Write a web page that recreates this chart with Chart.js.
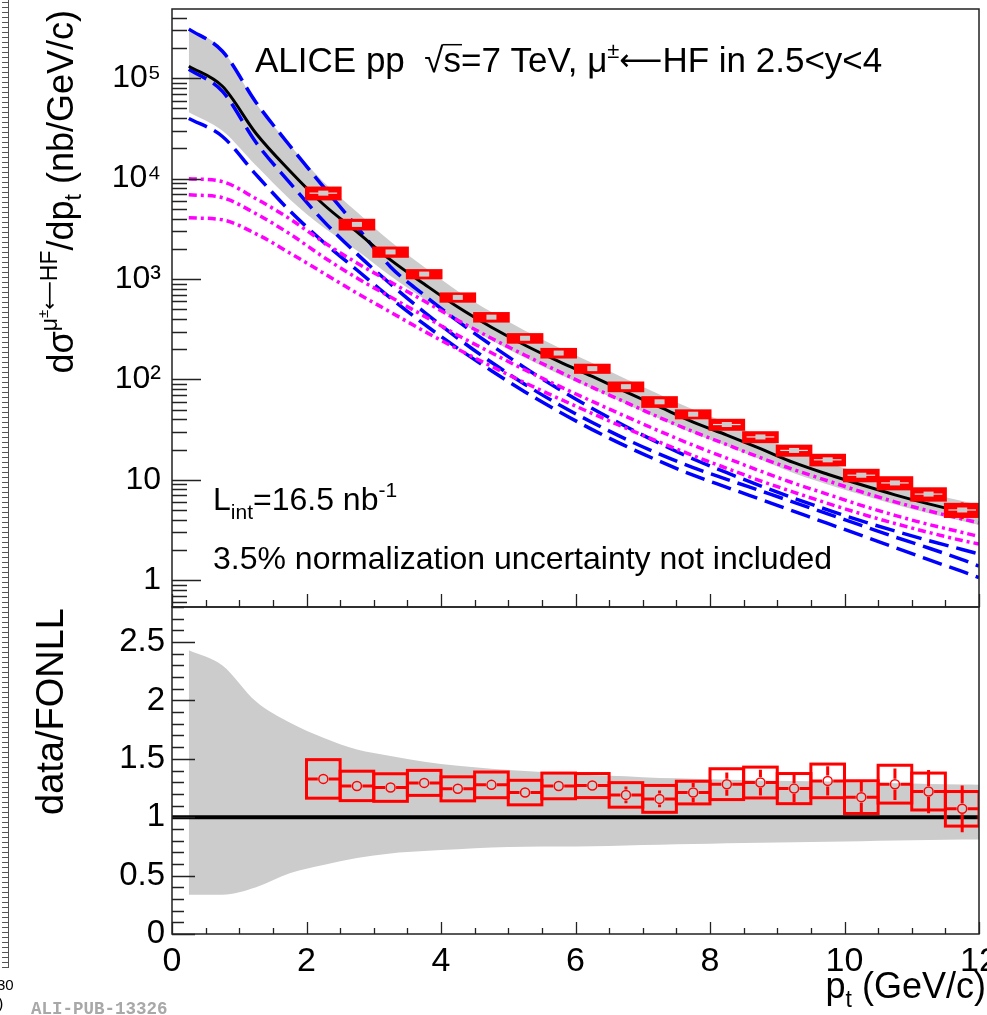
<!DOCTYPE html>
<html>
<head>
<meta charset="utf-8">
<script src="https://cdn.jsdelivr.net/npm/chart.js@4.4.1/dist/chart.umd.min.js"></script>
<style>
  html, body { margin: 0; padding: 0; background: #fff; }
  #wrap { position: relative; width: 987px; height: 1015px; overflow: hidden; background: #fff; }
  #topChart { position: absolute; left: 0; top: 0; }
  #ratioChart { position: absolute; left: 0; top: 600px; }
</style>
</head>
<body>
<div id="wrap">
  <canvas id="topChart" width="987" height="608"></canvas>
  <canvas id="ratioChart" width="987" height="415"></canvas>
</div>
<script>
// FONLL curves, sampled in pt (GeV/c)
const fonllPt = [0.25, 0.75, 1.25, 1.75, 2.25, 2.75, 3.25, 3.75, 4.25, 4.75, 5.25, 5.75, 6.25, 6.75, 7.25, 7.75, 8.25, 8.75, 9.25, 9.75, 10.25, 10.75, 11.25, 11.75, 12];

// total (HF) central value and its uncertainty band, nb/GeV/c
const fonllTotal = [132000, 83200, 28200, 12000, 5560, 2950, 1550, 891, 525, 331, 219, 151, 107, 75.0, 53.1, 37.6, 27.9, 20.4, 14.8, 11.35, 8.91, 7.08, 5.75, 4.79, 4.37];
const fonllTotalUp = [320000, 191000, 56100, 21800, 9340, 4660, 2360, 1314, 756, 468, 306, 208, 146, 101, 70.9, 50.0, 36.8, 26.8, 19.4, 14.8, 11.6, 9.13, 7.39, 6.13, 5.58];
const fonllTotalLow = [46000, 30000, 13500, 6250, 3280, 1920, 1070, 633, 381, 245, 164, 113, 80.5, 56.9, 40.6, 29.0, 21.7, 15.9, 11.6, 8.97, 7.08, 5.66, 4.63, 3.88, 3.54];

// charm contribution (blue dashed)
const charmUp = [309000, 186000, 57500, 21400, 8320, 3310, 1320, 692, 380, 219, 130, 80.4, 51.3, 33.9, 23.0, 16.1, 11.75, 8.71, 6.53, 5.01, 3.89, 3.09, 2.48, 2.02, 1.82];
const charmCentral = [123000, 74100, 22900, 9120, 3800, 1780, 891, 468, 257, 148, 89.1, 56.2, 37.2, 25.4, 18.0, 13.2, 10.1, 7.76, 5.96, 4.57, 3.51, 2.69, 2.09, 1.60, 1.38];
const charmLow = [39800, 26300, 10960, 4790, 2340, 1230, 646, 355, 204, 122, 75.0, 47.9, 31.6, 21.6, 15.3, 11.1, 8.41, 6.38, 4.84, 3.67, 2.79, 2.11, 1.60, 1.22, 1.06];

// beauty contribution (magenta dash-dot)
const beautyUp = [10000, 9330, 6310, 3980, 2340, 1445, 933, 603, 389, 257, 174, 120, 83.2, 58.9, 41.7, 30.2, 22.4, 16.6, 12.6, 9.77, 7.59, 6.03, 4.90, 4.07, 3.72];
const beautyCentral = [6920, 6460, 4470, 2820, 1660, 1023, 661, 427, 275, 184, 124, 86.1, 60.3, 42.7, 30.5, 22.1, 16.4, 12.2, 9.23, 7.16, 5.56, 4.42, 3.59, 2.99, 2.72];
const beautyLow = [4070, 3890, 2820, 1820, 1148, 724, 468, 302, 200, 135, 92.3, 64.6, 45.7, 32.7, 23.7, 17.4, 13.0, 9.77, 7.50, 5.82, 4.57, 3.67, 2.99, 2.48, 2.29];

// FONLL uncertainty band in the ratio panel
const ratioBandUp = [2.43, 2.30, 1.99, 1.81, 1.68, 1.58, 1.525, 1.475, 1.44, 1.415, 1.395, 1.38, 1.36, 1.35, 1.335, 1.33, 1.32, 1.315, 1.31, 1.305, 1.30, 1.29, 1.285, 1.28, 1.278];
const ratioBandLow = [0.337, 0.337, 0.40, 0.52, 0.59, 0.65, 0.69, 0.71, 0.725, 0.74, 0.748, 0.75, 0.752, 0.758, 0.764, 0.77, 0.778, 0.782, 0.786, 0.79, 0.795, 0.80, 0.805, 0.81, 0.81];
const unityPt = [0, 12];
const unityVal = [1, 1];

// measured data points (bin centers, half width 0.25)
const dataPt = [2.25, 2.75, 3.25, 3.75, 4.25, 4.75, 5.25, 5.75, 6.25, 6.75, 7.25, 7.75, 8.25, 8.75, 9.25, 9.75, 10.25, 10.75, 11.25, 11.75];
const binHalfWidth = 0.25;
const dataXsec = [7170, 3500, 1860, 1120, 656, 417, 257, 183, 128, 84.6, 59.8, 45.0, 35.5, 26.7, 19.6, 15.8, 11.1, 9.3, 7.2, 5.0];
const dataXsecSys = [890, 348, 175, 92.6, 54.4, 35.9, 22.3, 15.9, 10.4, 7.46, 5.94, 3.6, 3.65, 2.72, 2.03, 1.74, 1.33, 1.18, 0.93, 0.69];
const dataXsecStat = [108, 55, 30, 17, 10.5, 6.5, 5.3, 4.3, 3.5, 5.0, 3.7, 3.1, 2.8, 2.3, 1.84, 1.5, 1.32, 0.98, 1.09, 0.94];
const ratioVal = [1.328, 1.268, 1.254, 1.294, 1.243, 1.277, 1.211, 1.268, 1.271, 1.191, 1.157, 1.211, 1.283, 1.297, 1.245, 1.311, 1.172, 1.283, 1.220, 1.072];
const ratioSys = [0.165, 0.126, 0.118, 0.107, 0.103, 0.110, 0.105, 0.110, 0.103, 0.105, 0.115, 0.097, 0.132, 0.132, 0.129, 0.144, 0.140, 0.162, 0.158, 0.148];
const ratioStat = [0.02, 0.02, 0.02, 0.02, 0.02, 0.02, 0.025, 0.03, 0.035, 0.071, 0.071, 0.084, 0.10, 0.11, 0.117, 0.125, 0.14, 0.135, 0.185, 0.20];

// axes
const xMin = 0, xMax = 12;
const xTickValues = [0, 2, 4, 6, 8, 10, 12];
const xTickLabels = ["0", "2", "4", "6", "8", "10", "12"];
const yTopMin = 0.54, yTopMax = 490000;
const yTopTickValues = [1, 10, 100, 1000, 10000, 100000];
const yTopTickLabels = ["1", "10", "10²", "10³", "10⁴", "10⁵"];
const yRatioMin = 0, yRatioMax = 2.8;
const yRatioTickValues = [0, 0.5, 1, 1.5, 2, 2.5];
const yRatioTickLabels = ["0", "0.5", "1", "1.5", "2", "2.5"];

const FONT = '"Liberation Sans", Arial, Helvetica, sans-serif';
const ARROW_FONT = '"DejaVu Sans", sans-serif';
const RED = "#ff0000";

function pts(xs, ys) {
  return xs.map((p, i) => ({ x: p, y: ys[i] }));
}

// draw text made of pieces (super/subscripts), returns width
function drawRich(ctx, parts, x, y, measureOnly) {
  let cx = x;
  parts.forEach(p => {
    ctx.font = (p.bold ? "bold " : "") + p.s + "px " + (p.f || FONT);
    const w = ctx.measureText(p.t).width;
    if (!measureOnly) {
      ctx.fillText(p.t, cx, y + (p.dy || 0));
      if (p.over) {
        ctx.lineWidth = 1.5;
        ctx.beginPath();
        ctx.moveTo(cx - 1, y - p.s * 0.78);
        ctx.lineTo(cx + w + 1, y - p.s * 0.78);
        ctx.stroke();
      }
    }
    cx += w;
  });
  return cx - x;
}

function drawFrame(ctx, a) {
  ctx.strokeStyle = "#222";
  ctx.lineWidth = 1.5;
  ctx.strokeRect(a.left, a.top, a.right - a.left, a.bottom - a.top);
}

function drawXTicks(ctx, a, x, major, minor) {
  ctx.strokeStyle = "#222";
  ctx.lineWidth = 1.3;
  ctx.beginPath();
  for (let t = xMin; t <= xMax + 1e-6; t += 0.5) {
    const px = Math.round(x.getPixelForValue(t)) + 0.5;
    const len = Math.abs(t % 2) < 1e-6 ? major : minor;
    ctx.moveTo(px, a.bottom);
    ctx.lineTo(px, a.bottom - len);
  }
  ctx.stroke();
}

// piece of the neighbouring figure on the left edge
function drawLeftStrip(ctx, y0, y1) {
  ctx.strokeStyle = "#555";
  ctx.lineWidth = 1;
  ctx.beginPath();
  ctx.moveTo(8.5, y0);
  ctx.lineTo(8.5, y1);
  for (let yy = y0 + 2; yy < y1; yy += 5) {
    ctx.moveTo(2, yy + 0.5);
    ctx.lineTo(8, yy + 0.5);
  }
  ctx.stroke();
}

const topDecor = {
  id: "topDecor",
  afterDatasetsDraw(chart) {
    const { ctx, chartArea: a, scales: { x, y } } = chart;
    ctx.save();
    ctx.beginPath();
    ctx.rect(a.left, a.top, a.right - a.left, a.bottom - a.top);
    ctx.clip();
    dataPt.forEach((pt, i) => {
      const xl = x.getPixelForValue(pt - binHalfWidth);
      const xr = x.getPixelForValue(pt + binHalfWidth);
      const xc = x.getPixelForValue(pt);
      const v = dataXsec[i];
      const yt = y.getPixelForValue(v + dataXsecSys[i]);
      const yb = y.getPixelForValue(v - dataXsecSys[i]);
      ctx.fillStyle = RED;
      ctx.strokeStyle = RED;
      ctx.lineWidth = 3;
      ctx.fillRect(xl, yt, xr - xl, yb - yt);
      ctx.strokeRect(xl, yt, xr - xl, yb - yt);
      // statistical error
      ctx.beginPath();
      ctx.moveTo(xc, y.getPixelForValue(v + dataXsecStat[i]));
      ctx.lineTo(xc, y.getPixelForValue(v - dataXsecStat[i]));
      ctx.stroke();
      const yc = y.getPixelForValue(v);
      if (i === 0 || pt > 8) {
        ctx.strokeStyle = "#e4e4e4";
        ctx.lineWidth = 1.2;
        ctx.beginPath();
        ctx.moveTo(xl + 3, yc);
        ctx.lineTo(xr - 3, yc);
        ctx.stroke();
      }
      ctx.fillStyle = "#cdcdcd";
      ctx.fillRect(xc - 5, yc - 2.5, 10, 5);
    });
    ctx.restore();
  },
  afterDraw(chart) {
    const { ctx, chartArea: a, scales: { x, y } } = chart;
    ctx.save();
    drawFrame(ctx, a);
    drawXTicks(ctx, a, x, 13, 7);
    // log y ticks
    ctx.beginPath();
    for (let e = -1; e <= 5; e++) {
      for (let k = 1; k <= 9; k++) {
        const v = k * Math.pow(10, e);
        if (v < yTopMin || v > yTopMax) continue;
        const py = Math.round(y.getPixelForValue(v)) + 0.5;
        ctx.moveTo(a.left, py);
        ctx.lineTo(a.left + (k === 1 ? 29 : 15), py);
      }
    }
    ctx.stroke();

    ctx.fillStyle = "#000";
    ctx.strokeStyle = "#000";
    ctx.textBaseline = "alphabetic";
    ctx.textAlign = "left";
    // title
    drawRich(ctx, [
      { t: "ALICE pp  ", s: 35 },
      { t: "√", s: 35 },
      { t: "s", s: 35, over: true },
      { t: "=7 TeV, μ", s: 35 },
      { t: "±", s: 22, dy: -14 },
      { t: "⟵", s: 30, f: ARROW_FONT, dy: -2 },
      { t: "HF in 2.5<y<4", s: 35 }
    ], 255, 72);
    // luminosity and note
    drawRich(ctx, [
      { t: "L", s: 32 },
      { t: "int", s: 21, dy: 9 },
      { t: "=16.5 nb", s: 32 },
      { t: "-1", s: 21, dy: -13 }
    ], 213, 510);
    drawRich(ctx, [{ t: "3.5% normalization uncertainty not included", s: 32 }], 213, 569);

    // y title
    const yTitle = [
      { t: "dσ", s: 36 },
      { t: "μ", s: 23, dy: -16 },
      { t: "±", s: 15, dy: -25 },
      { t: "⟵", s: 20, f: ARROW_FONT, dy: -17 },
      { t: "HF", s: 23, dy: -16 },
      { t: "/dp", s: 36 },
      { t: "t", s: 23, dy: 8 },
      { t: " (nb/GeV/c)", s: 36 }
    ];
    const w = drawRich(ctx, yTitle, 0, 0, true);
    ctx.translate(73, 10 + w);
    ctx.rotate(-Math.PI / 2);
    drawRich(ctx, yTitle, 0, 0);
    ctx.restore();

    ctx.save();
    drawLeftStrip(ctx, 0, 608);
    ctx.restore();
  }
};

const ratioDecor = {
  id: "ratioDecor",
  afterDatasetsDraw(chart) {
    const { ctx, chartArea: a, scales: { x, y } } = chart;
    ctx.save();
    ctx.beginPath();
    ctx.rect(a.left, a.top, a.right - a.left, a.bottom - a.top);
    ctx.clip();
    ctx.strokeStyle = RED;
    const r = 4.5;
    dataPt.forEach((pt, i) => {
      const xl = x.getPixelForValue(pt - binHalfWidth);
      const xr = x.getPixelForValue(pt + binHalfWidth);
      const xc = x.getPixelForValue(pt);
      const v = ratioVal[i];
      const yt = y.getPixelForValue(v + ratioSys[i]);
      const yb = y.getPixelForValue(v - ratioSys[i]);
      const yc = y.getPixelForValue(v);
      ctx.lineWidth = 3;
      ctx.strokeRect(xl, yt, xr - xl, yb - yt);
      ctx.beginPath();
      ctx.moveTo(xl, yc);
      ctx.lineTo(xc - r - 1, yc);
      ctx.moveTo(xc + r + 1, yc);
      ctx.lineTo(xr, yc);
      const ys1 = y.getPixelForValue(v + ratioStat[i]);
      const ys2 = y.getPixelForValue(v - ratioStat[i]);
      if (ys1 < yc - r - 1) { ctx.moveTo(xc, ys1); ctx.lineTo(xc, yc - r - 1); }
      if (ys2 > yc + r + 1) { ctx.moveTo(xc, yc + r + 1); ctx.lineTo(xc, ys2); }
      ctx.stroke();
      ctx.lineWidth = 1.5;
      ctx.beginPath();
      ctx.arc(xc, yc, r, 0, 2 * Math.PI);
      ctx.stroke();
    });
    ctx.restore();
  },
  afterDraw(chart) {
    const { ctx, chartArea: a, scales: { x, y } } = chart;
    ctx.save();
    drawFrame(ctx, a);
    drawXTicks(ctx, a, x, 12, 6);
    ctx.beginPath();
    for (let k = 0; k <= 28; k++) {
      const v = k / 10;
      const py = Math.round(y.getPixelForValue(v)) + 0.5;
      ctx.moveTo(a.left, py);
      ctx.lineTo(a.left + (k % 5 === 0 ? 23 : 12), py);
    }
    ctx.stroke();

    ctx.fillStyle = "#000";
    ctx.strokeStyle = "#000";
    ctx.textBaseline = "alphabetic";
    // x title, right aligned
    const xTitle = [
      { t: "p", s: 36 },
      { t: "t", s: 23, dy: 9 },
      { t: " (GeV/c)", s: 36 }
    ];
    const wx = drawRich(ctx, xTitle, 0, 0, true);
    drawRich(ctx, xTitle, 986 - wx, 398);

    // ratio y title
    const yTitle = [{ t: "data/FONLL", s: 38 }];
    const wy = drawRich(ctx, yTitle, 0, 0, true);
    ctx.save();
    ctx.translate(63, 8 + wy);
    ctx.rotate(-Math.PI / 2);
    drawRich(ctx, yTitle, 0, 0);
    ctx.restore();

    // figure id and leftovers
    ctx.fillStyle = "#a8a8a8";
    drawRich(ctx, [{ t: "ALI-PUB-13326", s: 17.5, bold: true, f: '"Liberation Mono", "DejaVu Sans Mono", monospace' }], 31, 414);
    ctx.fillStyle = "#000";
    drawRich(ctx, [{ t: "30", s: 15 }], -3, 390);
    drawRich(ctx, [{ t: ")", s: 16 }], -2, 409);
    drawLeftStrip(ctx, 0, 368);
    ctx.restore();
  }
};

const lineBase = { pointRadius: 0, borderWidth: 3.5, fill: false, cubicInterpolationMode: "monotone" };
const bandBase = { pointRadius: 0, borderWidth: 0, borderColor: "rgba(0,0,0,0)", cubicInterpolationMode: "monotone" };
const blueDash = [20, 8];
const magentaDash = [8, 4, 3, 4];

new Chart(document.getElementById("topChart"), {
  type: "line",
  data: {
    datasets: [
      { ...lineBase, label: "FONLL", data: pts(fonllPt, fonllTotal), borderColor: "#000000", borderWidth: 3, order: 0 },
      { ...lineBase, label: "beauty up", data: pts(fonllPt, beautyUp), borderColor: "#ff00ff", borderDash: magentaDash, order: 1 },
      { ...lineBase, label: "beauty", data: pts(fonllPt, beautyCentral), borderColor: "#ff00ff", borderDash: magentaDash, order: 1 },
      { ...lineBase, label: "beauty low", data: pts(fonllPt, beautyLow), borderColor: "#ff00ff", borderDash: magentaDash, order: 1 },
      { ...lineBase, label: "charm up", data: pts(fonllPt, charmUp), borderColor: "#0000ff", borderDash: blueDash, order: 2 },
      { ...lineBase, label: "charm", data: pts(fonllPt, charmCentral), borderColor: "#0000ff", borderDash: blueDash, order: 2 },
      { ...lineBase, label: "charm low", data: pts(fonllPt, charmLow), borderColor: "#0000ff", borderDash: blueDash, order: 2 },
      { ...bandBase, label: "band up", data: pts(fonllPt, fonllTotalUp), backgroundColor: "#cccccc", fill: "+1", order: 3 },
      { ...bandBase, label: "band low", data: pts(fonllPt, fonllTotalLow), fill: false, order: 3 }
    ]
  },
  options: {
    responsive: false,
    animation: false,
    layout: { padding: { left: 0, right: 8, top: 9, bottom: 1 } },
    plugins: { legend: { display: false }, tooltip: { enabled: false } },
    scales: {
      x: { type: "linear", min: xMin, max: xMax, display: false },
      y: {
        type: "logarithmic",
        min: yTopMin,
        max: yTopMax,
        grid: { display: false, drawTicks: false },
        border: { display: false },
        ticks: {
          color: "#000",
          padding: 11,
          font: { family: FONT, size: 32 },
          callback: v => yTopTickLabels[yTopTickValues.indexOf(v)]
        },
        afterBuildTicks: s => { s.ticks = yTopTickValues.map(v => ({ value: v })); },
        afterFit: s => { s.width = 172; s.paddingTop = 0; s.paddingBottom = 0; }
      }
    }
  },
  plugins: [topDecor]
});

new Chart(document.getElementById("ratioChart"), {
  type: "line",
  data: {
    datasets: [
      { ...lineBase, label: "unity", data: pts(unityPt, unityVal), borderColor: "#000000", borderWidth: 4, order: 0 },
      { ...bandBase, label: "ratio band up", data: pts(fonllPt, ratioBandUp), backgroundColor: "#cccccc", fill: "+1", order: 3 },
      { ...bandBase, label: "ratio band low", data: pts(fonllPt, ratioBandLow), fill: false, order: 3 }
    ]
  },
  options: {
    responsive: false,
    animation: false,
    layout: { padding: { left: 0, right: 8, top: 7, bottom: 0 } },
    plugins: { legend: { display: false }, tooltip: { enabled: false } },
    scales: {
      x: {
        type: "linear",
        min: xMin,
        max: xMax,
        grid: { display: false, drawTicks: false },
        border: { display: false },
        ticks: {
          color: "#000",
          padding: 7,
          maxRotation: 0,
          autoSkip: false,
          font: { family: FONT, size: 34 },
          callback: v => xTickLabels[xTickValues.indexOf(v)]
        },
        afterBuildTicks: s => { s.ticks = xTickValues.map(v => ({ value: v })); },
        afterFit: s => { s.height = 81; s.paddingLeft = 0; s.paddingRight = 0; }
      },
      y: {
        type: "linear",
        min: yRatioMin,
        max: yRatioMax,
        grid: { display: false, drawTicks: false },
        border: { display: false },
        ticks: {
          color: "#000",
          padding: 7,
          font: { family: FONT, size: 33 },
          callback: v => yRatioTickLabels[yRatioTickValues.indexOf(v)]
        },
        afterBuildTicks: s => { s.ticks = yRatioTickValues.map(v => ({ value: v })); },
        afterFit: s => { s.width = 172; s.paddingTop = 0; s.paddingBottom = 0; }
      }
    }
  },
  plugins: [ratioDecor]
});
</script>
</body>
</html>
